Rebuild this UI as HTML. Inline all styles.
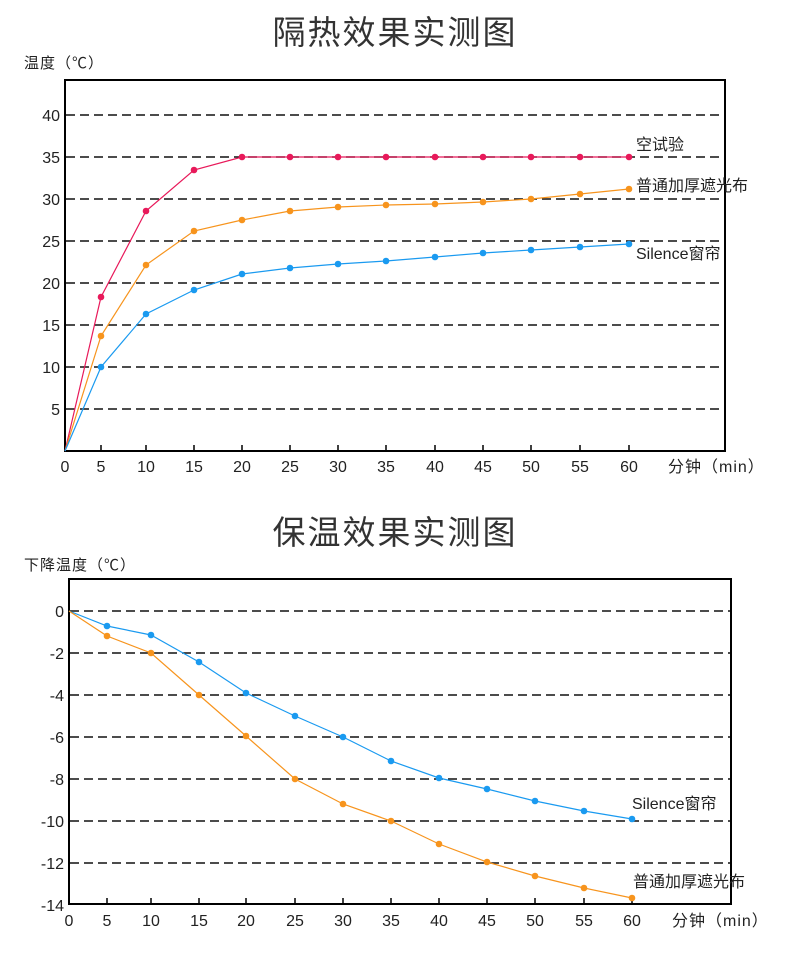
<!DOCTYPE html>
<html><head><meta charset="utf-8"><style>
html,body{margin:0;padding:0;background:#fff;}
svg{display:block;font-family:"Liberation Sans","Noto Sans CJK SC",sans-serif;}
</style></head><body>
<svg width="790" height="959" viewBox="0 0 790 959">
<g font-size="33" fill="#333" text-anchor="middle" letter-spacing="2"><text x="395" y="44">隔热效果实测图</text><text x="395" y="544">保温效果实测图</text></g>
<!-- chart 1 -->
<text x="24" y="68" font-size="15" fill="#222" letter-spacing="1">温度（℃）</text>
<g stroke="#111" stroke-width="1.5" stroke-dasharray="9,5">
<line x1="66" x2="725" y1="115" y2="115"/><line x1="66" x2="725" y1="157" y2="157"/><line x1="66" x2="725" y1="199" y2="199"/><line x1="66" x2="725" y1="241" y2="241"/><line x1="66" x2="725" y1="283" y2="283"/><line x1="66" x2="725" y1="325" y2="325"/><line x1="66" x2="725" y1="367" y2="367"/><line x1="66" x2="725" y1="409" y2="409"/>
</g>
<rect x="65" y="80" width="660" height="371" fill="none" stroke="#000" stroke-width="2"/>
<g stroke="#000" stroke-width="1.5"><line x1="101" x2="101" y1="451" y2="445"/><line x1="146" x2="146" y1="451" y2="445"/><line x1="194" x2="194" y1="451" y2="445"/><line x1="242" x2="242" y1="451" y2="445"/><line x1="290" x2="290" y1="451" y2="445"/><line x1="338" x2="338" y1="451" y2="445"/><line x1="386" x2="386" y1="451" y2="445"/><line x1="435" x2="435" y1="451" y2="445"/><line x1="483" x2="483" y1="451" y2="445"/><line x1="531" x2="531" y1="451" y2="445"/><line x1="580" x2="580" y1="451" y2="445"/><line x1="629" x2="629" y1="451" y2="445"/></g>
<g font-size="16" fill="#222" text-anchor="end"><text x="60" y="121">40</text><text x="60" y="163">35</text><text x="60" y="205">30</text><text x="60" y="247">25</text><text x="60" y="289">20</text><text x="60" y="331">15</text><text x="60" y="373">10</text><text x="60" y="415">5</text></g>
<g font-size="16" fill="#222" text-anchor="middle"><text x="65" y="472">0</text><text x="101" y="472">5</text><text x="146" y="472">10</text><text x="194" y="472">15</text><text x="242" y="472">20</text><text x="290" y="472">25</text><text x="338" y="472">30</text><text x="386" y="472">35</text><text x="435" y="472">40</text><text x="483" y="472">45</text><text x="531" y="472">50</text><text x="580" y="472">55</text><text x="629" y="472">60</text></g>
<text x="668" y="472" font-size="16" fill="#222" letter-spacing="1">分钟（min）</text>
<g fill="none" stroke-width="1.2">
<polyline stroke="#e8195a" points="65,451 101,297 146,211 194,170 242,157 290,157 338,157 386,157 435,157 483,157 531,157 580,157 629,157"/>
<polyline stroke="#f7941d" points="65,451 101,336 146,265 194,231 242,220 290,211 338,207 386,205 435,204 483,202 531,199 580,194 629,189"/>
<polyline stroke="#1a9af0" points="65,451 101,367 146,314 194,290 242,274 290,268 338,264 386,261 435,257 483,253 531,250 580,247 629,244"/>
</g>
<g fill="#e8195a"><circle cx="101" cy="297" r="3.3"/><circle cx="146" cy="211" r="3.3"/><circle cx="194" cy="170" r="3.3"/><circle cx="242" cy="157" r="3.3"/><circle cx="290" cy="157" r="3.3"/><circle cx="338" cy="157" r="3.3"/><circle cx="386" cy="157" r="3.3"/><circle cx="435" cy="157" r="3.3"/><circle cx="483" cy="157" r="3.3"/><circle cx="531" cy="157" r="3.3"/><circle cx="580" cy="157" r="3.3"/><circle cx="629" cy="157" r="3.3"/></g>
<g fill="#f7941d"><circle cx="101" cy="336" r="3.3"/><circle cx="146" cy="265" r="3.3"/><circle cx="194" cy="231" r="3.3"/><circle cx="242" cy="220" r="3.3"/><circle cx="290" cy="211" r="3.3"/><circle cx="338" cy="207" r="3.3"/><circle cx="386" cy="205" r="3.3"/><circle cx="435" cy="204" r="3.3"/><circle cx="483" cy="202" r="3.3"/><circle cx="531" cy="199" r="3.3"/><circle cx="580" cy="194" r="3.3"/><circle cx="629" cy="189" r="3.3"/></g>
<g fill="#1a9af0"><circle cx="101" cy="367" r="3.3"/><circle cx="146" cy="314" r="3.3"/><circle cx="194" cy="290" r="3.3"/><circle cx="242" cy="274" r="3.3"/><circle cx="290" cy="268" r="3.3"/><circle cx="338" cy="264" r="3.3"/><circle cx="386" cy="261" r="3.3"/><circle cx="435" cy="257" r="3.3"/><circle cx="483" cy="253" r="3.3"/><circle cx="531" cy="250" r="3.3"/><circle cx="580" cy="247" r="3.3"/><circle cx="629" cy="244" r="3.3"/></g>
<g font-size="16" fill="#222"><text x="636" y="150">空试验</text><text x="636" y="191">普通加厚遮光布</text><text x="636" y="259">Silence窗帘</text></g>
<!-- chart 2 -->
<text x="24" y="570" font-size="15" fill="#222" letter-spacing="1">下降温度（℃）</text>
<g stroke="#111" stroke-width="1.5" stroke-dasharray="9,5">
<line x1="70" x2="731" y1="611" y2="611"/><line x1="70" x2="731" y1="653" y2="653"/><line x1="70" x2="731" y1="695" y2="695"/><line x1="70" x2="731" y1="737" y2="737"/><line x1="70" x2="731" y1="779" y2="779"/><line x1="70" x2="731" y1="821" y2="821"/><line x1="70" x2="731" y1="863" y2="863"/>
</g>
<rect x="69" y="579" width="662" height="325" fill="none" stroke="#000" stroke-width="2"/>
<g stroke="#000" stroke-width="1.5"><line x1="107" x2="107" y1="904" y2="898"/><line x1="151" x2="151" y1="904" y2="898"/><line x1="199" x2="199" y1="904" y2="898"/><line x1="246" x2="246" y1="904" y2="898"/><line x1="295" x2="295" y1="904" y2="898"/><line x1="343" x2="343" y1="904" y2="898"/><line x1="391" x2="391" y1="904" y2="898"/><line x1="439" x2="439" y1="904" y2="898"/><line x1="487" x2="487" y1="904" y2="898"/><line x1="535" x2="535" y1="904" y2="898"/><line x1="584" x2="584" y1="904" y2="898"/><line x1="632" x2="632" y1="904" y2="898"/></g>
<g font-size="16" fill="#222" text-anchor="end"><text x="64" y="617">0</text><text x="64" y="659">-2</text><text x="64" y="701">-4</text><text x="64" y="743">-6</text><text x="64" y="785">-8</text><text x="64" y="827">-10</text><text x="64" y="869">-12</text><text x="64" y="911">-14</text></g>
<g font-size="16" fill="#222" text-anchor="middle"><text x="69" y="926">0</text><text x="107" y="926">5</text><text x="151" y="926">10</text><text x="199" y="926">15</text><text x="246" y="926">20</text><text x="295" y="926">25</text><text x="343" y="926">30</text><text x="391" y="926">35</text><text x="439" y="926">40</text><text x="487" y="926">45</text><text x="535" y="926">50</text><text x="584" y="926">55</text><text x="632" y="926">60</text></g>
<text x="672" y="926" font-size="16" fill="#222" letter-spacing="1">分钟（min）</text>
<g fill="none" stroke-width="1.2">
<polyline stroke="#1a9af0" points="69,611 107,626 151,635 199,662 246,693 295,716 343,737 391,761 439,778 487,789 535,801 584,811 632,819"/>
<polyline stroke="#f7941d" points="69,611 107,636 151,653 199,695 246,736 295,779 343,804 391,821 439,844 487,862 535,876 584,888 632,898"/>
</g>
<g fill="#1a9af0"><circle cx="107" cy="626" r="3.3"/><circle cx="151" cy="635" r="3.3"/><circle cx="199" cy="662" r="3.3"/><circle cx="246" cy="693" r="3.3"/><circle cx="295" cy="716" r="3.3"/><circle cx="343" cy="737" r="3.3"/><circle cx="391" cy="761" r="3.3"/><circle cx="439" cy="778" r="3.3"/><circle cx="487" cy="789" r="3.3"/><circle cx="535" cy="801" r="3.3"/><circle cx="584" cy="811" r="3.3"/><circle cx="632" cy="819" r="3.3"/></g>
<g fill="#f7941d"><circle cx="107" cy="636" r="3.3"/><circle cx="151" cy="653" r="3.3"/><circle cx="199" cy="695" r="3.3"/><circle cx="246" cy="736" r="3.3"/><circle cx="295" cy="779" r="3.3"/><circle cx="343" cy="804" r="3.3"/><circle cx="391" cy="821" r="3.3"/><circle cx="439" cy="844" r="3.3"/><circle cx="487" cy="862" r="3.3"/><circle cx="535" cy="876" r="3.3"/><circle cx="584" cy="888" r="3.3"/><circle cx="632" cy="898" r="3.3"/></g>
<g font-size="16" fill="#222"><text x="632" y="809">Silence窗帘</text><text x="633" y="887">普通加厚遮光布</text></g>
</svg>
</body></html>
